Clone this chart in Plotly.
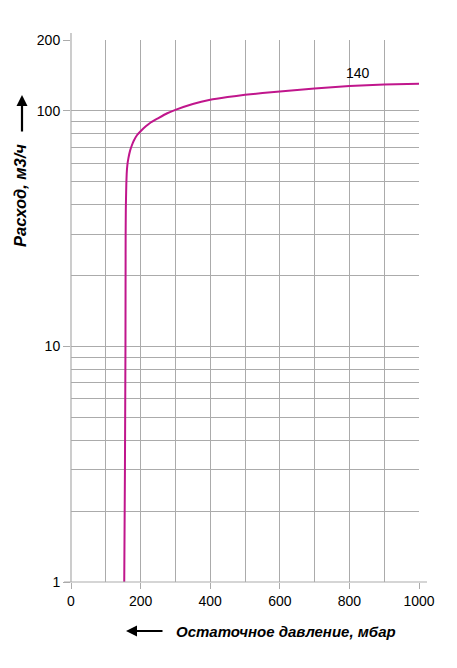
import plotly.graph_objects as go
import numpy as np

pressure = [153, 155, 156.5, 157, 157.5, 158, 159, 160, 162, 165, 170, 175, 180, 190, 200, 215, 230, 250, 275, 300, 350, 400, 450, 500, 600, 700, 800, 900, 1000]
flow = [1, 3, 10, 30, 38, 42, 49, 54, 59, 63, 68, 71.5, 74.5, 79, 82, 86, 89.5, 93, 97.5, 101, 107, 111.5, 114.5, 117, 121, 124.5, 127.5, 129.5, 130.5]
curve_label = "140"
x_ticks = [0, 200, 400, 600, 800, 1000]
y_ticks = [1, 10, 100, 200]
y_minor = [2, 3, 4, 5, 6, 7, 8, 9, 20, 30, 40, 50, 60, 70, 80, 90]

FONT = "Liberation Sans, Arial, Helvetica, sans-serif"
GRID = "#ababab"

# page body has an 8px margin: plot area target 71..419 x 40..582 in the window
OFF = 8
L, T = 71 - OFF, 40 - OFF
PW, PH = 348, 542

fig = go.Figure()
fig.add_trace(go.Scatter(x=pressure, y=flow, mode="lines",
                         line=dict(color="#c0168c", width=2, shape="spline", smoothing=0.3),
                         showlegend=False, hoverinfo="skip"))

fig.update_layout(
    width=457 - OFF, height=668 - OFF,
    margin=dict(l=L, r=457 - OFF - L - PW, t=T, b=668 - OFF - T - PH),
    plot_bgcolor="white", paper_bgcolor="white",
    font=dict(family=FONT, size=14, color="black"),
    xaxis=dict(range=[0, 1000], tickvals=x_ticks, ticktext=[str(v) for v in x_ticks],
               showgrid=True, gridcolor=GRID, gridwidth=1,
               minor=dict(dtick=100, showgrid=True, gridcolor=GRID, gridwidth=1),
               ticks="outside", ticklen=6, tickcolor=GRID, showline=False, zeroline=False,
               tickfont=dict(size=14)),
    yaxis=dict(type="log", range=[0, np.log10(200)], tickvals=y_ticks,
               ticktext=[str(v) for v in y_ticks],
               showgrid=True, gridcolor=GRID, gridwidth=1,
               minor=dict(tickvals=y_minor, showgrid=True, gridcolor=GRID, gridwidth=1, ticks=""),
               ticks="outside", ticklen=7, tickcolor=GRID, showline=False, zeroline=False,
               tickfont=dict(size=14)),
)

def px_x(p):
    return (p - 71) / PW

def px_y(p):
    return (582 - p) / PH

# axis lines
fig.add_shape(type="line", xref="paper", yref="paper", x0=0, x1=0, y0=0, y1=px_y(33),
              line=dict(color=GRID, width=1.2))
fig.add_shape(type="line", xref="paper", yref="paper", x0=px_x(64), x1=px_x(427), y0=0, y1=0,
              line=dict(color=GRID, width=1.2))

fig.add_annotation(x=825, y=np.log10(145), text=curve_label, showarrow=False,
                   xanchor="center", yanchor="middle",
                   font=dict(size=14, color="black"))

# y title + arrow
fig.add_annotation(xref="paper", yref="paper", x=px_x(20), y=px_y(196),
                   xanchor="center", yanchor="middle",
                   text="<b><i>Расход, м3/ч</i></b>", textangle=-90, showarrow=False,
                   font=dict(size=16.5, color="black"))
fig.add_annotation(xref="paper", yref="paper", x=px_x(22), y=px_y(95),
                   text="", showarrow=True, ax=0, ay=38, arrowhead=2, arrowsize=1,
                   arrowwidth=2.2, arrowcolor="black")

# x title + arrow
fig.add_annotation(xref="paper", yref="paper", x=px_x(286), y=px_y(631),
                   xanchor="center", yanchor="middle",
                   text="<b><i>Остаточное давление, мбар</i></b>", showarrow=False,
                   font=dict(size=15, color="black"))
fig.add_annotation(xref="paper", yref="paper", x=px_x(126), y=px_y(631),
                   text="", showarrow=True, ax=38, ay=0, arrowhead=2, arrowsize=1,
                   arrowwidth=2.2, arrowcolor="black")

fig.write_html("out.html")
